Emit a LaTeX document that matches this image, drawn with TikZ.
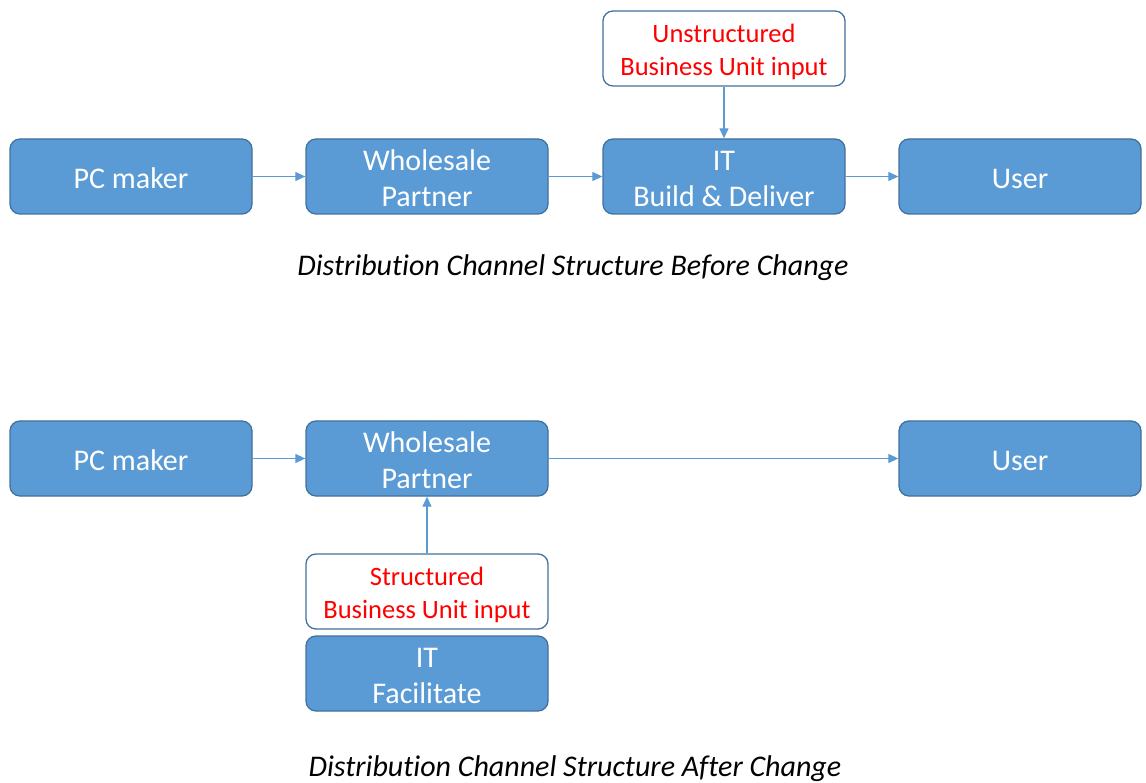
\documentclass[tikz,border=0pt]{standalone}
\usepackage{fontspec}
\setmainfont{Carlito}[Ligatures=NoCommon]
\usetikzlibrary{arrows.meta}
\definecolor{boxfill}{HTML}{5B9BD5}
\definecolor{boxline}{HTML}{41719C}
\definecolor{redtxt}{HTML}{FF0000}
\tikzset{
  boxbase/.style={draw=boxline, line width=1.3pt, rounded corners=10pt,
    minimum width=242pt, minimum height=75pt, inner sep=0pt, align=center},
  bluebox/.style={boxbase, fill=boxfill, text=white, font=\fontsize{30}{36}\selectfont},
  whitebox/.style={boxbase, fill=white, text=redtxt, font=\fontsize{26.5}{33}\selectfont},
  conn/.style={draw=boxfill, line width=1.2pt, -{Triangle[length=10pt,width=9pt]}},
  caption/.style={font=\fontsize{30}{36}\selectfont\itshape, text=black, inner sep=0pt}
}
\newcommand{\shiftdown}[2]{\raisebox{-#1}[\height][\depth]{\parbox{242pt}{\centering #2}}}
\begin{document}
\begin{tikzpicture}[x=1pt,y=-1pt]
\useasboundingbox (0,0) rectangle (1146,783);
% Before
\node[bluebox] (pc1) at (131,176.5) {\shiftdown{2pt}{PC maker}};
\node[bluebox] (ws1) at (427,176.5) {\shiftdown{2pt}{Wholesale\\Partner}};
\node[bluebox] (it1) at (724,176.5) {\shiftdown{2pt}{IT\\Build \& Deliver}};
\node[bluebox] (us1) at (1020,176.5) {\shiftdown{2pt}{User}};
\node[whitebox] (ub) at (724,48.5) {\shiftdown{3pt}{Unstructured\\Business Unit input}};
\draw[conn] (pc1) -- (ws1);
\draw[conn] (ws1) -- (it1);
\draw[conn] (it1) -- (us1);
\draw[conn] (ub) -- (it1);
\node[caption] (cap1) at (573,268) {Distribution Channel Structure Before Change};
% After
\node[bluebox] (pc2) at (131,458.5) {\shiftdown{2pt}{PC maker}};
\node[bluebox] (ws2) at (427,458.5) {\shiftdown{2pt}{Wholesale\\Partner}};
\node[bluebox] (us2) at (1020,458.5) {\shiftdown{2pt}{User}};
\node[whitebox] (sb) at (427,591.5) {\shiftdown{3pt}{Structured\\Business Unit input}};
\node[bluebox] (it2) at (427,673.5) {\shiftdown{2pt}{IT\\Facilitate}};
\draw[conn] (pc2) -- (ws2);
\draw[conn] (ws2) -- (us2);
\draw[conn] (sb) -- (ws2);
\node[caption] (cap2) at (575,769) {Distribution Channel Structure After Change};
\end{tikzpicture}
\end{document}
